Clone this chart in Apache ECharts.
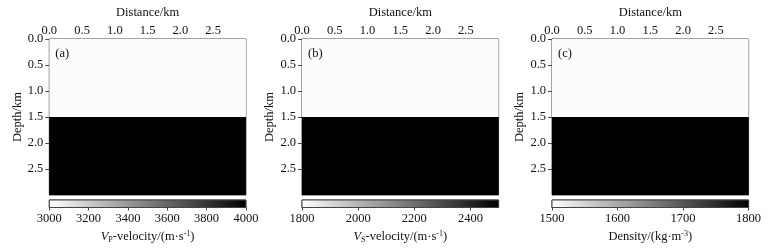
<!DOCTYPE html>
<html>
<head>
<meta charset="utf-8">
<script src="https://cdn.jsdelivr.net/npm/echarts@6/dist/echarts.min.js"></script>
<style>
  html, body { margin: 0; padding: 0; background: #fff; }
  #chart { width: 772px; height: 249px; }
</style>
</head>
<body>
<div id="chart"></div>
<script>
// two-layer model: layer boundaries in km
const distRange = [0, 3.0];
const depthRange = [0, 3.0];
const layerTop = [0, 1.5];
const layerBottom = [1.5, 3.0];
const layerLeft = [0, 0];
const layerRight = [3.0, 3.0];

// property values per layer
const vpValues = [3000, 4000];
const vsValues = [1800, 2500];
const rhoValues = [1500, 1800];

// colour bar ranges and ticks
const cbMin = [3000, 1800, 1500];
const cbMax = [4000, 2500, 1800];
const cbStep = [200, 200, 100];

const panelLabels = ['(a)', '(b)', '(c)'];
const cbNames = [
  '{it|V}{sub|P}-velocity/(m·s{sup|-1})',
  '{it|V}{sub|S}-velocity/(m·s{sup|-1})',
  'Density/(kg·m{sup|-3})'
];
const panelValues = [vpValues, vsValues, rhoValues];

const FONT = 'Liberation Serif';
const lefts = [49.3, 302, 552];
const W = 196.6;
const axisColor = '#444';

const chart = echarts.init(document.getElementById('chart'));

const grids = [], xAxes = [], yAxes = [], series = [], visualMaps = [], graphics = [];

lefts.forEach((left, i) => {
  // main model panel
  grids.push({ left, top: 39, width: W, height: 156, show: true, borderColor: axisColor, borderWidth: 1 });
  // colour bar
  grids.push({ left, top: 200, width: W, height: 7.5, show: true, borderColor: axisColor, borderWidth: 1 });

  xAxes.push({
    gridIndex: 2 * i, type: 'value', position: 'top',
    min: distRange[0], max: distRange[1], interval: 0.5,
    name: 'Distance/km', nameLocation: 'middle', nameGap: 16,
    nameTextStyle: { fontFamily: FONT, fontSize: 12.5, color: '#111' },
    axisLine: { show: true, lineStyle: { color: axisColor } },
    axisTick: { show: true, inside: true, length: 3, lineStyle: { color: axisColor } },
    axisLabel: { fontFamily: FONT, fontSize: 12.5, color: '#111', margin: 2, showMaxLabel: false,
      formatter: v => v.toFixed(1) },
    splitLine: { show: false }
  });
  yAxes.push({
    gridIndex: 2 * i, type: 'value', inverse: true,
    min: depthRange[0], max: depthRange[1], interval: 0.5,
    name: 'Depth/km', nameLocation: 'middle', nameGap: 25,
    nameTextStyle: { fontFamily: FONT, fontSize: 12.5, color: '#111' },
    axisLine: { show: true, lineStyle: { color: axisColor } },
    axisTick: { show: true, length: 4, lineStyle: { color: axisColor } },
    axisLabel: { fontFamily: FONT, fontSize: 12.5, color: '#111', margin: 6, showMaxLabel: false,
      formatter: v => v.toFixed(1) },
    splitLine: { show: false }
  });

  xAxes.push({
    gridIndex: 2 * i + 1, type: 'value', position: 'bottom',
    min: cbMin[i], max: cbMax[i], interval: cbStep[i],
    name: cbNames[i], nameLocation: 'middle', nameGap: 22,
    nameTextStyle: {
      fontFamily: FONT, fontSize: 12.5, color: '#111',
      rich: {
        it: { fontFamily: FONT, fontSize: 12.5, fontStyle: 'italic', color: '#111' },
        sub: { fontFamily: FONT, fontSize: 8, color: '#111', verticalAlign: 'bottom', padding: [6, 0, 0, 0] },
        sup: { fontFamily: FONT, fontSize: 8, color: '#111', verticalAlign: 'top', padding: [0, 0, 6, 0] }
      }
    },
    axisLine: { show: true, lineStyle: { color: axisColor } },
    axisTick: { show: true, length: 3, lineStyle: { color: axisColor } },
    axisLabel: { fontFamily: FONT, fontSize: 12.5, color: '#111', margin: 5,
      showMaxLabel: cbMax[i] % cbStep[i] === 0, formatter: v => String(v) },
    splitLine: { show: false }
  });
  yAxes.push({ gridIndex: 2 * i + 1, type: 'value', min: 0, max: 1, show: false });

  const vals = panelValues[i];
  const layerData = vals.map((v, k) => [layerLeft[k], layerRight[k], layerTop[k], layerBottom[k], v]);
  series.push({
    type: 'custom', xAxisIndex: 2 * i, yAxisIndex: 2 * i, clip: true,
    encode: { x: [0, 1], y: [2, 3] },
    data: layerData,
    renderItem: (params, api) => {
      const p0 = api.coord([api.value(0), api.value(2)]);
      const p1 = api.coord([api.value(1), api.value(3)]);
      return {
        type: 'rect',
        shape: { x: p0[0], y: p0[1], width: p1[0] - p0[0], height: p1[1] - p0[1] },
        style: { fill: api.visual('color') }
      };
    }
  });
  visualMaps.push({
    show: false, type: 'continuous', seriesIndex: series.length - 1, dimension: 4,
    min: cbMin[i], max: cbMax[i], inRange: { color: ['#fcfcfc', '#000000'] }
  });

  series.push({
    type: 'custom', xAxisIndex: 2 * i + 1, yAxisIndex: 2 * i + 1,
    data: [[cbMin[i], cbMax[i]]],
    encode: { x: [0, 1] },
    renderItem: (params, api) => {
      const p0 = api.coord([api.value(0), 1]);
      const p1 = api.coord([api.value(1), 0]);
      return {
        type: 'rect',
        shape: { x: p0[0], y: p0[1], width: p1[0] - p0[0], height: p1[1] - p0[1] },
        style: {
          fill: new echarts.graphic.LinearGradient(0, 0, 1, 0, [
            { offset: 0, color: '#ffffff' },
            { offset: 1, color: '#000000' }
          ]),
          stroke: axisColor, lineWidth: 1
        }
      };
    }
  });

  graphics.push({
    type: 'text', left: left + 6, top: 47, z: 100,
    style: { text: panelLabels[i], fontFamily: FONT, fontSize: 12.5, fill: '#111' }
  });
});

chart.setOption({
  animation: false,
  backgroundColor: '#fff',
  grid: grids,
  xAxis: xAxes,
  yAxis: yAxes,
  visualMap: visualMaps,
  series,
  graphic: graphics
});
</script>
</body>
</html>
